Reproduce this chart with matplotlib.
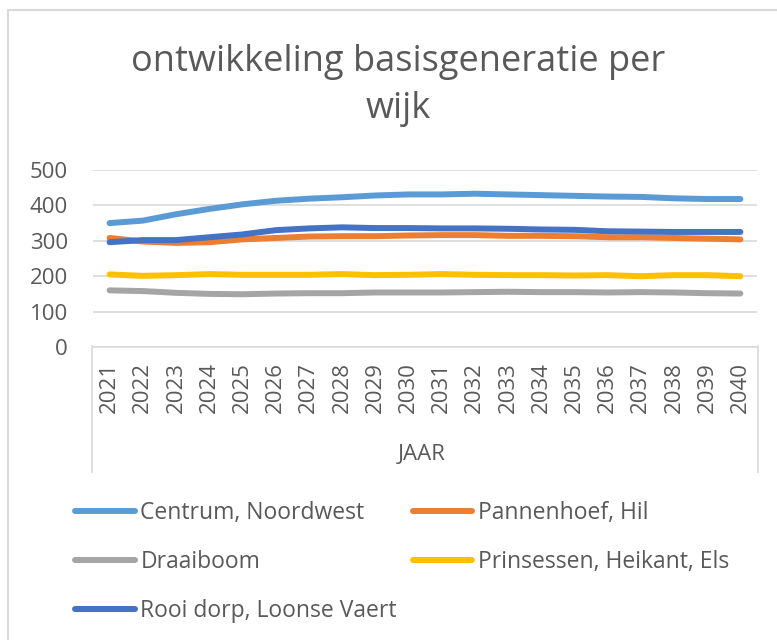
import matplotlib.pyplot as plt
from matplotlib.lines import Line2D

plt.rcParams['font.family'] = ['Open Sans', 'DejaVu Sans']

years = [str(y) for y in range(2021, 2041)]

centrum = [350, 357, 375, 390, 403, 413, 419, 423, 428, 431,
           431, 433, 431, 429, 427, 425, 424, 420, 418, 418]
pannenhoef = [308, 298, 294, 296, 304, 308, 312, 313, 313, 315,
              316, 316, 314, 314, 313, 310, 310, 308, 306, 304]
draaiboom = [160, 158, 153, 150, 149, 151, 152, 152, 154, 154,
             154, 155, 156, 155, 155, 154, 155, 154, 152, 151]
prinsessen = [205, 201, 203, 206, 204, 204, 204, 206, 203, 204,
              206, 204, 203, 203, 202, 203, 200, 203, 203, 200]
rooi = [296, 302, 302, 310, 318, 330, 335, 338, 336, 336,
        335, 335, 334, 332, 331, 327, 326, 325, 325, 325]

names = ["Centrum, Noordwest", "Pannenhoef, Hil", "Draaiboom",
         "Prinsessen, Heikant, Els", "Rooi dorp, Loonse Vaert"]
series = [centrum, pannenhoef, draaiboom, prinsessen, rooi]
colors = ["#5B9BD5", "#ED7D31", "#A5A5A5", "#FFC000", "#4472C4"]

txt = "#595959"
grid = "#D9D9D9"
fs = 16

fig = plt.figure(figsize=(7.77, 6.4), dpi=100)
W, H = 777, 640
ax = fig.add_axes([93 / W, 1 - 347 / H, (757 - 93) / W, (347 - 170) / H])

x = list(range(len(years)))
lines = []
for vals, name, c in zip(series, names, colors):
    ln, = ax.plot(x, vals, color=c, lw=4.3, solid_capstyle='round',
                  solid_joinstyle='round', label=name)
    lines.append(ln)

ax.set_xlim(-0.5, len(years) - 0.5)
ax.set_ylim(0, 500)
ax.set_yticks([0, 100, 200, 300, 400, 500])
ax.yaxis.grid(True, color=grid, lw=1.2)
ax.set_axisbelow(True)
for s in ['top', 'right', 'left']:
    ax.spines[s].set_visible(False)
ax.spines['bottom'].set_color(grid)
ax.spines['bottom'].set_linewidth(1.2)
ax.set_xticks(x)
ax.set_xticklabels(years, rotation=90)
ax.tick_params(axis='x', length=0, pad=11, labelsize=fs, labelcolor=txt)
ax.tick_params(axis='y', length=0, pad=18, labelsize=fs, labelcolor=txt)

# category axis box (left/right verticals)
for xp in (92, 758):
    fig.add_artist(Line2D([xp / W, xp / W], [1 - 346 / H, 1 - 472 / H],
                          color=grid, lw=1.2))

fig.text(422 / W, 1 - 455 / H, "JAAR", ha='center', va='center',
         fontsize=fs, color=txt)

fig.text(398 / W, 1 - 62 / H, "ontwikkeling basisgeneratie per",
         ha='center', va='center', fontsize=26, color=txt)
fig.text(398 / W, 1 - 109 / H, "wijk",
         ha='center', va='center', fontsize=26, color=txt)

# chart border (top and left visible)
fig.add_artist(Line2D([8 / W, 1], [1 - 10 / H, 1 - 10 / H], color=grid, lw=1.5))
fig.add_artist(Line2D([8 / W, 8 / W], [1 - 10 / H, 0], color=grid, lw=1.5))

order = [0, 2, 4, 1, 3]
leg = fig.legend([lines[i] for i in order], [names[i] for i in order],
                 ncol=2, loc='upper left', bbox_to_anchor=(75 / W, 1 - 501 / H),
                 frameon=False, fontsize=16.5, handlelength=2.6,
                 handletextpad=0.25, labelspacing=1.1, columnspacing=0.7,
                 borderpad=0, borderaxespad=0)
for t in leg.get_texts():
    t.set_color(txt)

fig.savefig("out.png", dpi=100)
